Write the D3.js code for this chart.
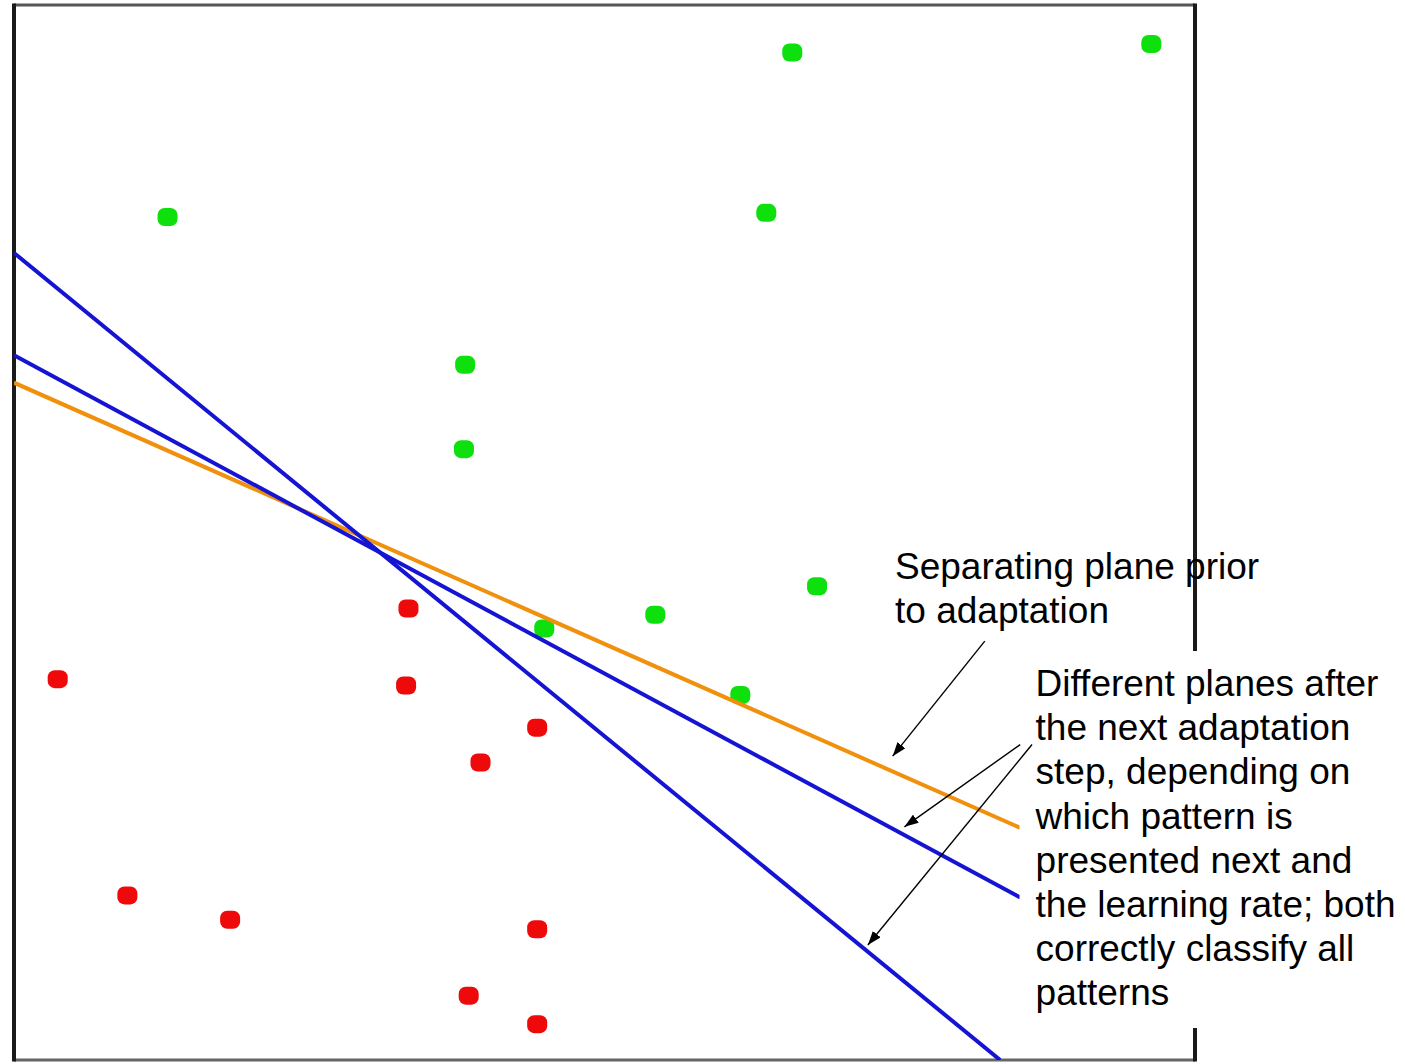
<!DOCTYPE html>
<html>
<head>
<meta charset="utf-8">
<script src="https://cdn.jsdelivr.net/npm/d3@7"></script>
<style>
  html, body { margin: 0; padding: 0; background: #fff; }
  svg { display: block; }
</style>
</head>
<body>
<svg id="chart" width="1405" height="1064"></svg>
<script>
// ---- data (arbitrary units, 0..10 on both axes) ----
const greenX = [6.59, 9.63, 1.30, 6.37, 3.82, 3.81, 6.80, 5.43, 4.49, 6.15];
const greenY = [9.55, 9.63, 7.99, 8.03, 6.59, 5.79, 4.49, 4.22, 4.09, 3.46];
const redX   = [3.34, 0.37, 3.32, 4.43, 3.95, 0.96, 1.83, 4.43, 3.85, 4.43];
const redY   = [4.28, 3.61, 3.55, 3.15, 2.82, 1.56, 1.33, 1.24, 0.61, 0.34];

// separating planes: endpoints [x0, y0, x1, y1]
const planePrior = [0, 6.42, 8.52, 2.20];
const planeAfterA = [0, 6.68, 8.52, 1.54];
const planeAfterB = [0, 7.65, 8.35, 0.00];

// annotations
const priorLabel = ["Separating plane prior", "to adaptation"];
const afterLabel = ["Different planes after", "the next adaptation", "step, depending on",
                    "which pattern is", "presented next and", "the learning rate; both",
                    "correctly classify all", "patterns"];
// arrows: [fromX, fromY, toX, toY]
const arrowPrior  = [8.22, 3.97, 7.44, 2.88];
const arrowAfterA = [8.52, 2.99, 7.54, 2.21];
const arrowAfterB = [8.62, 2.99, 7.23, 1.09];
const priorAnchor = [7.46, 4.56];
const afterAnchor = [8.65, 3.45];

// ---- drawing ----
const svg = d3.select("#chart");
const pLeft = 14, pRight = 1195, pTop = 5, pBottom = 1060;
const x = d3.scaleLinear().domain([0, 10]).range([pLeft, pRight]);
const y = d3.scaleLinear().domain([0, 10]).range([pBottom, pTop]);

svg.append("rect").attr("width", 1405).attr("height", 1064).attr("fill", "#fff");

const defs = svg.append("defs");
defs.append("clipPath").attr("id", "plot")
  .append("rect").attr("x", pLeft).attr("y", pTop).attr("width", pRight - pLeft).attr("height", pBottom - pTop);

// frame
const frame = svg.append("g");
frame.append("line").attr("x1", pLeft).attr("x2", pRight).attr("y1", pTop).attr("y2", pTop)
  .attr("stroke", "#555").attr("stroke-width", 3);
frame.append("line").attr("x1", pLeft).attr("x2", pRight).attr("y1", pBottom).attr("y2", pBottom)
  .attr("stroke", "#666").attr("stroke-width", 3);
frame.append("line").attr("x1", pLeft).attr("x2", pLeft).attr("y1", pTop - 1.5).attr("y2", pBottom + 1.5)
  .attr("stroke", "#1a1a1a").attr("stroke-width", 4);
frame.append("line").attr("x1", pRight).attr("x2", pRight).attr("y1", pTop - 1.5).attr("y2", pBottom + 1.5)
  .attr("stroke", "#1a1a1a").attr("stroke-width", 4);

// points
const sz = 20, rx = 7;
function drawPoints(xs, ys, color) {
  svg.append("g").selectAll("rect").data(xs.map((v, i) => [v, ys[i]])).join("rect")
    .attr("x", d => x(d[0]) - sz / 2).attr("y", d => y(d[1]) - (sz - 2) / 2)
    .attr("width", sz).attr("height", sz - 2).attr("rx", rx).attr("ry", rx)
    .attr("fill", color);
}
drawPoints(greenX, greenY, "#0ee00e");
drawPoints(redX, redY, "#ee0a0a");

// lines
const lines = svg.append("g").attr("clip-path", "url(#plot)");
function drawLine(p, color) {
  lines.append("line")
    .attr("x1", x(p[0])).attr("y1", y(p[1])).attr("x2", x(p[2])).attr("y2", y(p[3]))
    .attr("stroke", color).attr("stroke-width", 4).attr("stroke-linecap", "butt");
}
drawLine(planePrior, "#f0900c");
drawLine(planeAfterB, "#1414d2");
drawLine(planeAfterA, "#1414d2");

// arrowhead
defs.append("marker")
  .attr("id", "arrow").attr("viewBox", "0 0 14 10").attr("refX", 14).attr("refY", 5)
  .attr("markerWidth", 14).attr("markerHeight", 10).attr("markerUnits", "userSpaceOnUse")
  .attr("orient", "auto")
  .append("path").attr("d", "M0,0 L14,5 L0,10 Z").attr("fill", "#000");

// text block with white background
const fontFamily = "'Liberation Sans', Arial, sans-serif";
const fs = 37, lh = 44.2;
const afterG = svg.append("g");
afterG.append("rect")
  .attr("x", x(afterAnchor[0]) - 16).attr("y", y(afterAnchor[1]) - 45)
  .attr("width", 1405 - (x(afterAnchor[0]) - 16)).attr("height", 377)
  .attr("fill", "#fff");
afterG.selectAll("text").data(afterLabel).join("text")
  .attr("x", x(afterAnchor[0])).attr("y", (d, i) => y(afterAnchor[1]) + i * lh)
  .attr("font-family", fontFamily).attr("font-size", fs).attr("fill", "#000")
  .text(d => d);

svg.append("g").selectAll("text").data(priorLabel).join("text")
  .attr("x", x(priorAnchor[0])).attr("y", (d, i) => y(priorAnchor[1]) + i * lh)
  .attr("font-family", fontFamily).attr("font-size", fs).attr("fill", "#000")
  .text(d => d);

// arrows
svg.append("g").selectAll("line").data([arrowPrior, arrowAfterA, arrowAfterB]).join("line")
  .attr("x1", d => x(d[0])).attr("y1", d => y(d[1]))
  .attr("x2", d => x(d[2])).attr("y2", d => y(d[3]))
  .attr("stroke", "#000").attr("stroke-width", 1.4)
  .attr("marker-end", "url(#arrow)");
</script>
</body>
</html>
